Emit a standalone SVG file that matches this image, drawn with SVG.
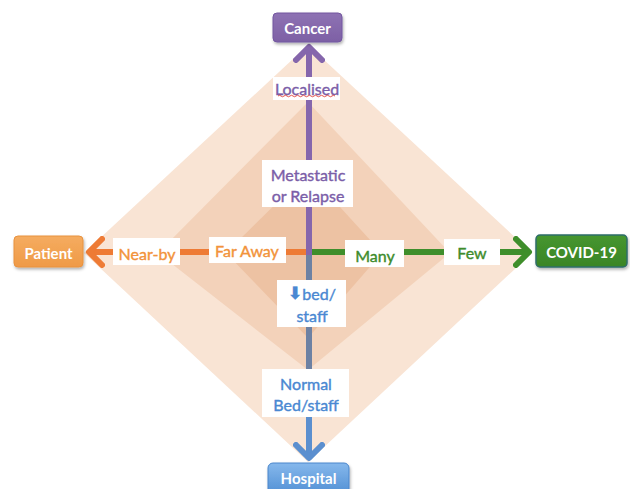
<svg xmlns="http://www.w3.org/2000/svg" width="630" height="489" viewBox="0 0 630 489">
  <style>
    .lbl { fill: #ffffff; }
    .t { font-family: Lato, "Open Sans", "Liberation Sans", sans-serif; font-size: 16px; text-anchor: middle; dominant-baseline: central; stroke-width: 0.4; }
    .nt { font-family: Lato, "Open Sans", "Liberation Sans", sans-serif; font-size: 15px; font-weight: bold; fill: #ffffff; text-anchor: middle; dominant-baseline: central; }
    .orange { fill: #F2933B; stroke: #F2933B; }
    .green { fill: #3E8C2C; stroke: #3E8C2C; }
    .purple { fill: #7B5EA8; stroke: #7B5EA8; }
    .blue { fill: #4A88D2; stroke: #4A88D2; }
    .line { fill: none; stroke-width: 6; }
  </style>
  <defs>
    <filter id="shadow" x="-20%" y="-20%" width="140%" height="160%">
      <feDropShadow dx="1" dy="2" stdDeviation="1.5" flood-color="#000000" flood-opacity="0.3"/>
    </filter>
    <linearGradient id="gHosp" x1="0" y1="0" x2="0" y2="1">
      <stop offset="0" stop-color="#86B8EC"/>
      <stop offset="1" stop-color="#4C8CD2"/>
    </linearGradient>
    <linearGradient id="gCancer" x1="0" y1="0" x2="0" y2="1">
      <stop offset="0" stop-color="#8E72B3"/>
      <stop offset="1" stop-color="#7D60A5"/>
    </linearGradient>
    <linearGradient id="gPatient" x1="0" y1="0" x2="0" y2="1">
      <stop offset="0" stop-color="#F5AC60"/>
      <stop offset="1" stop-color="#EF9A47"/>
    </linearGradient>
    <linearGradient id="gCovid" x1="0" y1="0" x2="0" y2="1">
      <stop offset="0" stop-color="#46962F"/>
      <stop offset="1" stop-color="#3A8527"/>
    </linearGradient>
    <marker id="aOrange" markerUnits="userSpaceOnUse" viewBox="0 0 20 32" markerWidth="20" markerHeight="32" refX="15" refY="16" orient="auto">
      <path d="M3,3 L16,16 L3,29" fill="none" stroke="#EE7B35" stroke-width="6" stroke-linecap="round" stroke-linejoin="round"/>
    </marker>
    <marker id="aGreen" markerUnits="userSpaceOnUse" viewBox="0 0 20 32" markerWidth="20" markerHeight="32" refX="15" refY="16" orient="auto">
      <path d="M3,3 L16,16 L3,29" fill="none" stroke="#3F8E2B" stroke-width="6" stroke-linecap="round" stroke-linejoin="round"/>
    </marker>
    <marker id="aPurple" markerUnits="userSpaceOnUse" viewBox="0 0 20 32" markerWidth="20" markerHeight="32" refX="15" refY="16" orient="auto">
      <path d="M3,3 L16,16 L3,29" fill="none" stroke="#8566AC" stroke-width="6" stroke-linecap="round" stroke-linejoin="round"/>
    </marker>
    <marker id="aBlue" markerUnits="userSpaceOnUse" viewBox="0 0 20 32" markerWidth="20" markerHeight="32" refX="15" refY="16" orient="auto">
      <path d="M3,3 L16,16 L3,29" fill="none" stroke="#5B8FCF" stroke-width="6" stroke-linecap="round" stroke-linejoin="round"/>
    </marker>
  </defs>

  <rect width="630" height="489" fill="#ffffff"/>

  <g id="background">
    <polygon points="308,45 532,253 308,462 84,253" fill="#F9E4D4"/>
    <polygon points="308,102 450,253 308,370 158,253" fill="#F3D2BA"/>
    <polygon points="308,172 382,253 308,338 226,253" fill="#EDC2A3"/>
  </g>

  <g id="connectors">
    <line class="line" x1="306" y1="252" x2="90" y2="252" stroke="#EE7B35" marker-end="url(#aOrange)"/>
    <line class="line" x1="306" y1="252" x2="528" y2="252" stroke="#3F8E2B" marker-end="url(#aGreen)"/>
    <line class="line" x1="309" y1="368" x2="309" y2="457" stroke="#5B8FCF" marker-end="url(#aBlue)"/>
    <line class="line" x1="309" y1="255" x2="309" y2="370" stroke="#6D81A3"/>
    <line class="line" x1="309" y1="255" x2="309" y2="48" stroke="#8566AC" marker-end="url(#aPurple)"/>
  </g>

  <g id="label-localised">
    <rect class="lbl" x="273" y="77" width="67" height="23"/>
    <text class="t purple" x="307" y="88">Localised</text>
    <path d="M278,96 q1.5,-1.5 3,0 t3,0 t3,0 t3,0 t3,0 t3,0 t3,0 t3,0 t3,0 t3,0 t3,0 t3,0 t3,0 t3,0 t3,0 t3,0 t3,0 t3,0 t3,0" fill="none" stroke="#E0403A" stroke-width="0.9"/>
  </g>
  <g id="label-metastatic">
    <rect class="lbl" x="262" y="160" width="91" height="47"/>
    <text class="t purple" x="308" y="174">Metastatic</text>
    <text class="t purple" x="308" y="195">or Relapse</text>
  </g>
  <g id="label-nearby">
    <rect class="lbl" x="113" y="238" width="67" height="27"/>
    <text class="t orange" x="147" y="253">Near-by</text>
  </g>
  <g id="label-faraway">
    <rect class="lbl" x="209" y="237" width="77" height="26"/>
    <text class="t orange" x="247" y="250">Far Away</text>
  </g>
  <g id="label-many">
    <rect class="lbl" x="345" y="240" width="59" height="27"/>
    <text class="t green" x="375" y="255">Many</text>
  </g>
  <g id="label-few">
    <rect class="lbl" x="444" y="239" width="56" height="26"/>
    <text class="t green" x="472" y="252">Few</text>
  </g>
  <g id="label-bedstaff">
    <rect class="lbl" x="277" y="280" width="69" height="47"/>
    <text class="t blue" x="312" y="293"><tspan font-family="'DejaVu Sans', sans-serif" font-weight="bold" font-size="17">⬇</tspan>bed/</text>
    <text class="t blue" x="312" y="315">staff</text>
  </g>
  <g id="label-normal">
    <rect class="lbl" x="262" y="369" width="87" height="48"/>
    <text class="t blue" x="306" y="383">Normal</text>
    <text class="t blue" x="306" y="404">Bed/staff</text>
  </g>

  <g id="node-cancer">
    <rect x="273" y="13" width="69" height="29" rx="4" fill="url(#gCancer)" stroke="#7356A0" stroke-width="1" filter="url(#shadow)"/>
    <text class="nt" x="307.5" y="28">Cancer</text>
  </g>
  <g id="node-patient">
    <rect x="14" y="236" width="69" height="31" rx="4" fill="url(#gPatient)" stroke="#E8923F" stroke-width="1" filter="url(#shadow)"/>
    <text class="nt" x="48.5" y="253">Patient</text>
  </g>
  <g id="node-covid">
    <rect x="536" y="235" width="91" height="32" rx="4" fill="url(#gCovid)" stroke="#2E6D6A" stroke-width="1.5" filter="url(#shadow)"/>
    <text class="nt" x="581.5" y="252">COVID-19</text>
  </g>
  <g id="node-hospital">
    <rect x="268" y="463" width="81" height="34" rx="5" fill="url(#gHosp)" stroke="#4A86CC" stroke-width="1" filter="url(#shadow)"/>
    <text class="nt" x="308.5" y="478">Hospital</text>
  </g>
</svg>
